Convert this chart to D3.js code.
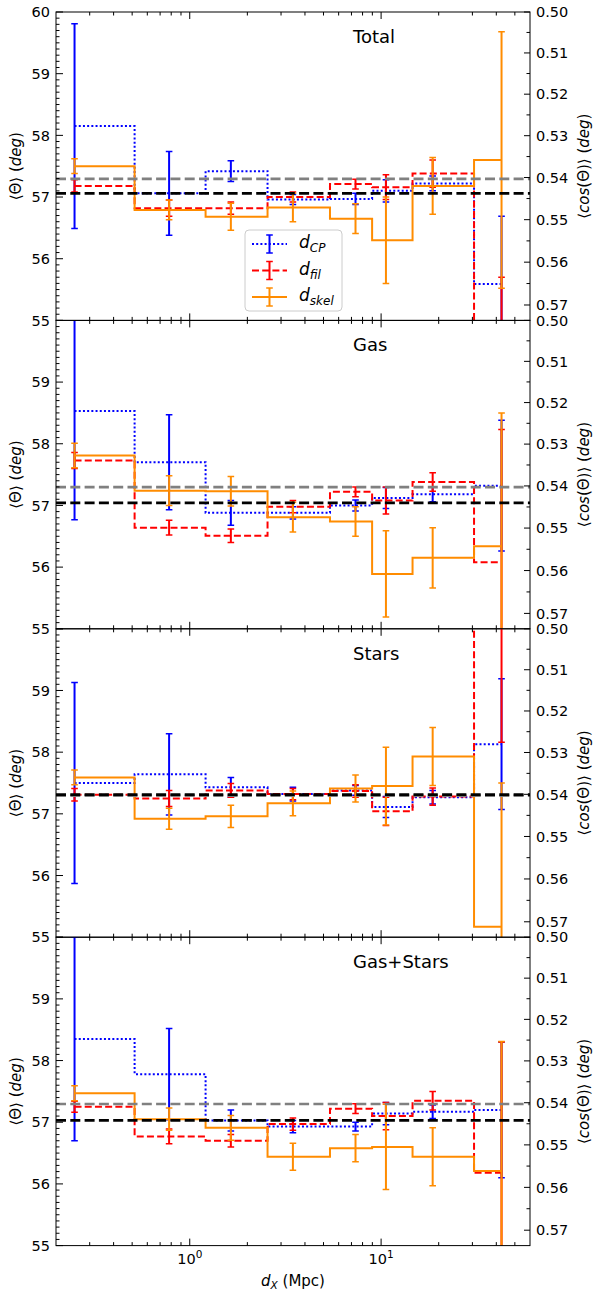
<!DOCTYPE html>
<html>
<head>
<meta charset="utf-8">
<script src="https://cdn.jsdelivr.net/npm/d3@7"></script>
<style>
  body { margin: 0; background: #fff; }
  text { font-family: "DejaVu Sans", sans-serif; fill: #000; }
</style>
</head>
<body>
<div id="chart"></div>
<script>
// bin centres (Mpc)
const dX = [0.25, 0.78, 1.64, 3.46, 7.35, 10.6, 18.6, 42.6];
const panelNames = ["Total", "Gas", "Stars", "Gas+Stars"];

// <Theta> per panel, d_CP
const cpMean = [
  [58.15, 57.06, 57.42, 56.96, 56.97, 57.10, 57.22, 55.59],
  [58.53, 57.70, 56.88, 56.88, 57.00, 57.12, 57.18, 57.32],
  [57.50, 57.64, 57.43, 57.32, 57.38, 57.11, 57.27, 58.13],
  [58.35, 57.78, 57.03, 56.93, 56.93, 57.14, 57.17, 57.20]
];
const cpErr = [
  [1.66, 0.68, 0.17, 0.08, 0.09, 0.18, 0.12, 1.10],
  [1.76, 0.77, 0.20, 0.10, 0.09, 0.17, 0.12, 1.06],
  [1.63, 0.66, 0.16, 0.11, 0.08, 0.17, 0.11, 1.06],
  [1.65, 0.74, 0.17, 0.10, 0.07, 0.18, 0.11, 1.10]
];
// d_fil
const filMean = [
  [57.18, 56.82, 56.82, 57.00, 57.21, 57.16, 57.38, 54.40],
  [57.73, 56.64, 56.51, 56.98, 57.22, 57.08, 57.38, 56.08],
  [57.31, 57.25, 57.38, 57.32, 57.37, 57.04, 57.28, 60.30],
  [57.25, 56.77, 56.70, 56.97, 57.22, 57.10, 57.35, 56.18]
];
const filErr = [
  [0.10, 0.13, 0.10, 0.08, 0.08, 0.20, 0.22, 1.30],
  [0.13, 0.12, 0.11, 0.10, 0.08, 0.22, 0.15, 2.15],
  [0.10, 0.13, 0.11, 0.09, 0.10, 0.23, 0.14, 2.14],
  [0.09, 0.12, 0.10, 0.10, 0.08, 0.22, 0.15, 2.12]
];
// d_skel
const skelMean = [
  [57.50, 56.79, 56.68, 56.83, 56.65, 56.30, 57.18, 57.60],
  [57.81, 57.24, 57.23, 56.81, 56.74, 55.89, 56.15, 56.34],
  [57.59, 56.92, 56.96, 57.17, 57.41, 57.45, 57.93, 55.17],
  [57.47, 57.05, 56.91, 56.44, 56.58, 56.60, 56.44, 56.21]
];
const skelErr = [
  [0.12, 0.16, 0.22, 0.23, 0.24, 0.70, 0.46, 2.08],
  [0.20, 0.24, 0.24, 0.24, 0.24, 0.70, 0.49, 2.16],
  [0.12, 0.17, 0.18, 0.20, 0.22, 0.63, 0.47, 2.33],
  [0.12, 0.18, 0.20, 0.22, 0.22, 0.69, 0.47, 2.10]
];
// reference lines
const isoRef = [57.2958, 57.2958, 57.2958, 57.2958];
const blackRef = [57.06, 57.04, 57.31, 57.03];

const yTicks = [55, 56, 57, 58, 59, 60];
const cosTicks = [0.50, 0.51, 0.52, 0.53, 0.54, 0.55, 0.56, 0.57];
const xTickLabels = [{v: 1, exp: "0"}, {v: 10, exp: "1"}];

// layout
const W = 594, H = 1293;
const margin = {left: 56, right: 530, top: 12};
const panelH = 308.4;

const svg = d3.select("#chart").append("svg")
  .attr("width", W).attr("height", H)
  .attr("viewBox", `0 0 ${W} ${H}`);

const x = d3.scaleLog().domain([0.2, 60]).range([margin.left, margin.right]);
const y = d3.scaleLinear().domain([55, 60]).range([panelH, 0]);
const deg = c => Math.acos(c) * 180 / Math.PI;

const series = [
  {name: "CP", mean: cpMean, err: cpErr, color: "#0000ff", dash: "2,2.2", width: 2},
  {name: "fil", mean: filMean, err: filErr, color: "#ff0000", dash: "7,3.2", width: 2},
  {name: "skel", mean: skelMean, err: skelErr, color: "#ff8c00", dash: null, width: 2}
];

function stepPath(vals) {
  let d = `M${x(dX[0])},${y(vals[0])}`;
  for (let i = 1; i < vals.length; i++) {
    const m = x((dX[i - 1] + dX[i]) / 2);
    d += `H${m}V${y(vals[i])}`;
  }
  d += `H${x(dX[dX.length - 1])}`;
  return d;
}

const minorX = [];
[0.1, 1, 10].forEach(b => { for (let k = 2; k <= 9; k++) { const v = b * k; if (v > 0.2 && v < 60) minorX.push(v); } });

const L = margin.left, R = margin.right;
const tickFont = "14.5px";

panelNames.forEach((name, p) => {
  const g = svg.append("g").attr("transform", `translate(0,${margin.top + p * panelH})`);

  g.append("clipPath").attr("id", `clip${p}`)
    .append("rect").attr("x", L).attr("y", 0).attr("width", R - L).attr("height", panelH);

  const plot = g.append("g").attr("clip-path", `url(#clip${p})`);

  series.forEach(s => {
    const vals = s.mean[p], errs = s.err[p];
    plot.append("path")
      .attr("d", stepPath(vals))
      .attr("fill", "none")
      .attr("stroke", s.color)
      .attr("stroke-width", s.width)
      .attr("stroke-dasharray", s.dash);

    const eb = plot.append("g").selectAll("g").data(vals.map((v, i) => ({v, e: errs[i], x: dX[i]}))).join("g");
    eb.append("line")
      .attr("x1", d => x(d.x)).attr("x2", d => x(d.x))
      .attr("y1", d => y(d.v - d.e)).attr("y2", d => y(d.v + d.e))
      .attr("stroke", s.color).attr("stroke-width", 2);
    [-1, 1].forEach(sg => {
      eb.append("line")
        .attr("x1", d => x(d.x) - 3.3).attr("x2", d => x(d.x) + 3.3)
        .attr("y1", d => y(d.v + sg * d.e)).attr("y2", d => y(d.v + sg * d.e))
        .attr("stroke", s.color).attr("stroke-width", 1.5);
    });
  });

  // reference lines
  plot.append("line")
    .attr("x1", L).attr("x2", R)
    .attr("y1", y(isoRef[p])).attr("y2", y(isoRef[p]))
    .attr("stroke", "#808080").attr("stroke-width", 2.7).attr("stroke-dasharray", "10,4.3");
  plot.append("line")
    .attr("x1", L).attr("x2", R)
    .attr("y1", y(blackRef[p])).attr("y2", y(blackRef[p]))
    .attr("stroke", "#000").attr("stroke-width", 2.7).attr("stroke-dasharray", "10,4.3");

  // frame
  g.append("rect").attr("x", L).attr("y", 0).attr("width", R - L).attr("height", panelH)
    .attr("fill", "none").attr("stroke", "#000").attr("stroke-width", 1);

  // left ticks
  const tk = g.append("g").attr("stroke", "#000").attr("stroke-width", 1);
  d3.range(550, 601).forEach(k => {
    const v = k / 10, major = k % 10 === 0;
    tk.append("line").attr("x1", L).attr("x2", L + (major ? 7 : 3.5))
      .attr("y1", y(v)).attr("y2", y(v));
  });
  yTicks.forEach(v => {
    if (v === 60 && p > 0) return;
    g.append("text").attr("x", L - 6).attr("y", y(v)).attr("dy", "0.36em")
      .attr("text-anchor", "end").style("font-size", tickFont).text(v);
  });

  // right (cos) ticks
  d3.range(500, 571, 5).forEach(k => {
    const c = k / 1000, major = k % 10 === 0;
    tk.append("line").attr("x1", R).attr("x2", R - (major ? 6 : 3.5))
      .attr("y1", y(deg(c))).attr("y2", y(deg(c)));
  });
  cosTicks.forEach(c => {
    g.append("text").attr("x", R + 6).attr("y", y(deg(c))).attr("dy", "0.36em")
      .style("font-size", tickFont).text(c.toFixed(2));
  });

  // x ticks top & bottom
  xTickLabels.forEach(t => {
    tk.append("line").attr("x1", x(t.v)).attr("x2", x(t.v)).attr("y1", 0).attr("y2", 7);
    tk.append("line").attr("x1", x(t.v)).attr("x2", x(t.v)).attr("y1", panelH).attr("y2", panelH - 7);
  });
  minorX.forEach(v => {
    tk.append("line").attr("x1", x(v)).attr("x2", x(v)).attr("y1", 0).attr("y2", 3.5);
    tk.append("line").attr("x1", x(v)).attr("x2", x(v)).attr("y1", panelH).attr("y2", panelH - 3.5);
  });

  // title
  g.append("text").attr("x", 353).attr("y", 31).style("font-size", "18px").text(name);

  // axis labels
  const ly = g.append("text")
    .attr("transform", `translate(21,${panelH / 2}) rotate(-90)`)
    .attr("text-anchor", "middle").style("font-size", "15px");
  ly.append("tspan").text("\u27E8\u0398\u27E9 (");
  ly.append("tspan").style("font-style", "italic").text("deg");
  ly.append("tspan").text(")");

  const ry = g.append("text")
    .attr("transform", `translate(584,${panelH / 2}) rotate(-90)`)
    .attr("text-anchor", "middle").attr("dy", "0.36em").style("font-size", "15px");
  ry.append("tspan").text("\u27E8");
  ry.append("tspan").style("font-style", "italic").text("cos");
  ry.append("tspan").text("(\u0398)\u27E9 (");
  ry.append("tspan").style("font-style", "italic").text("deg");
  ry.append("tspan").text(")");

  // legend in first panel
  if (p === 0) {
    const lg = g.append("g").attr("transform", "translate(245,218)");
    lg.append("rect").attr("width", 97).attr("height", 81).attr("rx", 4)
      .attr("fill", "#fff").attr("fill-opacity", 0.8).attr("stroke", "#cccccc");
    series.forEach((s, i) => {
      const ry0 = 14 + i * 26.5;
      lg.append("line").attr("x1", 7).attr("x2", 42).attr("y1", ry0).attr("y2", ry0)
        .attr("stroke", s.color).attr("stroke-width", s.width).attr("stroke-dasharray", s.dash);
      lg.append("line").attr("x1", 24.5).attr("x2", 24.5).attr("y1", ry0 - 9).attr("y2", ry0 + 9)
        .attr("stroke", s.color).attr("stroke-width", 2);
      [-9, 9].forEach(o => lg.append("line").attr("x1", 21.2).attr("x2", 27.8)
        .attr("y1", ry0 + o).attr("y2", ry0 + o).attr("stroke", s.color).attr("stroke-width", 1.5));
      const t = lg.append("text").attr("x", 54).attr("y", ry0 + 4).style("font-size", "17px")
        .style("font-style", "italic");
      t.append("tspan").text("d");
      t.append("tspan").attr("dy", 4).style("font-size", "12px").text(s.name);
    });
  }
});

// x tick labels at bottom
const bottom = margin.top + 4 * panelH;
xTickLabels.forEach(t => {
  const tx = svg.append("text").attr("x", x(t.v)).attr("y", bottom + 18)
    .attr("text-anchor", "middle").style("font-size", tickFont);
  tx.append("tspan").text("10");
  tx.append("tspan").attr("dy", -6).style("font-size", "10.5px").text(t.exp);
});

const xl = svg.append("text").attr("x", 293).attr("y", bottom + 40)
  .attr("text-anchor", "middle").style("font-size", "15px");
xl.append("tspan").style("font-style", "italic").text("d");
xl.append("tspan").attr("dy", 3).style("font-size", "10.5px").style("font-style", "italic").text("X");
xl.append("tspan").attr("dy", -3).text(" (Mpc)");
</script>
</body>
</html>
